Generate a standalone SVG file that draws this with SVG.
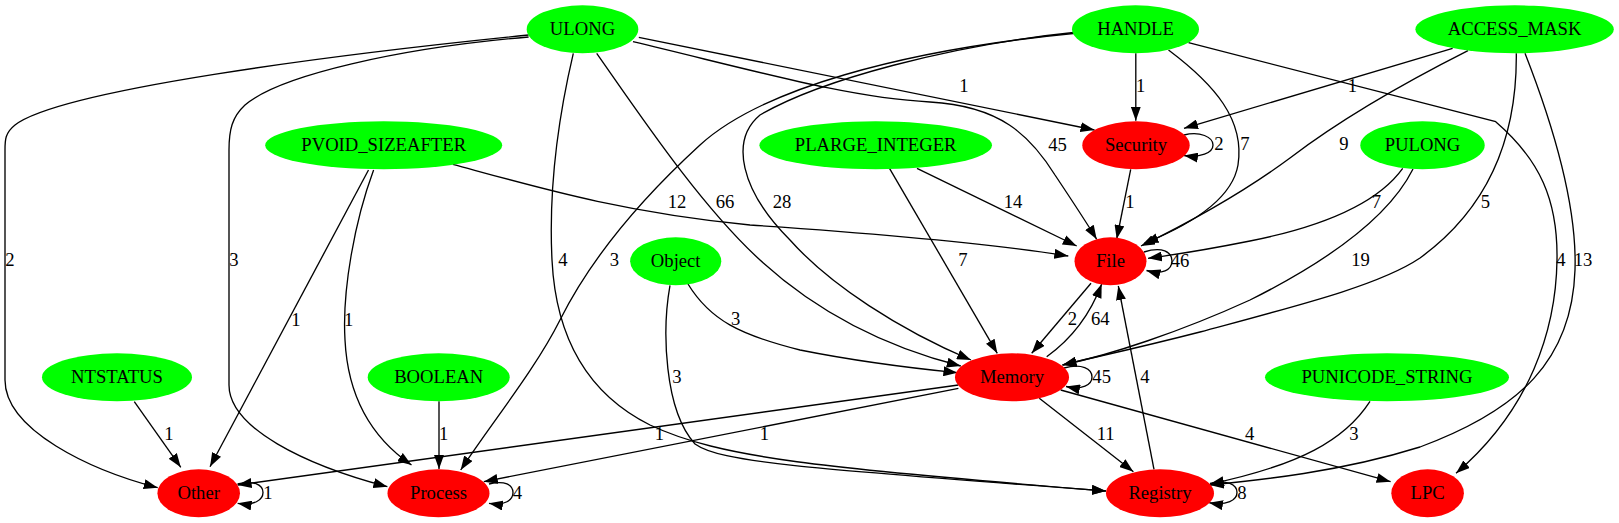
<svg xmlns="http://www.w3.org/2000/svg" width="1619" height="523" viewBox="0 0 1619 523">
<style>
.n ellipse{stroke:none}
.g{fill:#00ff00}
.r{fill:#ff0000}
text{font-family:"Liberation Serif","Times New Roman",serif;font-size:18.67px;text-anchor:middle;fill:#000}
#edges path{fill:none;stroke:#000;stroke-width:1.33;marker-end:url(#ah)}
</style>
<defs>
<marker id="ah" markerUnits="userSpaceOnUse" markerWidth="14" markerHeight="10" viewBox="0 0 14 10" refX="14" refY="5" orient="auto">
<path d="M0,0 L14,5 L0,10 z" fill="#000"/>
</marker>
</defs>
<rect width="1619" height="523" fill="#fff"/>
<g id="edges">
<g id="e_ULONG_Other"><path d="M528.6,35 C330,55 60,90 15,125 C5,133 5,140 5,150 L5,380 C5,430 90,470 157.7,487.7"/><text x="10" y="266">2</text></g>
<g id="e_ULONG_Process"><path d="M528.6,37 C400,48 280,75 245,105 C232,117 229,130 229,150 L229,385 C229,428 305,465 387.4,486.7"/><text x="234" y="266">3</text></g>
<g id="e_ULONG_Registry"><path d="M573.3,53.3 C560,110 548,180 552,260 C556,340 590,395 650,425 C720,458 820,468 1105.9,491"/><text x="563" y="266">4</text></g>
<g id="e_ULONG_Memory"><path d="M596.7,53.3 C640,115 700,205 760,260 C820,315 890,348 960.8,366"/><text x="725" y="208">66</text></g>
<g id="e_ULONG_File"><path d="M633,41.7 C760,72 850,98 930,102 C1000,106 1030,135 1055,175 C1075,205 1088,225 1096.7,239.3"/><text x="1057.5" y="151">45</text></g>
<g id="e_ULONG_Security"><path d="M638.8,37.3 L1094.5,130"/><text x="964" y="92">1</text></g>
<g id="e_HANDLE_Security"><path d="M1135.8,53.3 L1135.8,120.7"/><text x="1140.6" y="92">1</text></g>
<g id="e_HANDLE_File"><path d="M1168.5,50 C1215,85 1245,120 1238,165 C1232,200 1190,225 1144.4,243.3"/><text x="1245" y="150">7</text></g>
<g id="e_HANDLE_LPC"><path d="M1188.5,42.7 L1495.7,121.7 C1540,160 1558,200 1557,260 C1556,330 1530,410 1456,473.3"/><text x="1561" y="266">4</text></g>
<g id="e_HANDLE_Process"><path d="M1078,33 C900,50 760,90 700,145 C640,200 590,260 560,320 C535,370 490,425 460.7,470"/><text x="614.5" y="266">3</text></g>
<g id="e_HANDLE_Memory"><path d="M1078,32 C950,45 820,80 760,115 C730,140 740,190 790,240 C830,285 900,330 971,360"/><text x="782" y="208">28</text></g>
<g id="e_ACCESS_MASK_Security"><path d="M1452.6,48.3 L1184,128.3"/><text x="1352.5" y="92">1</text></g>
<g id="e_ACCESS_MASK_File"><path d="M1468,50.7 C1400,85 1340,120 1290,158 C1240,195 1190,222 1141,246"/><text x="1344" y="150">9</text></g>
<g id="e_ACCESS_MASK_Memory"><path d="M1516.3,53.3 C1517,120 1500,200 1420,258 C1380,285 1300,305 1200,332 C1130,350 1090,358 1062.5,365"/><text x="1485.5" y="208">5</text></g>
<g id="e_ACCESS_MASK_Registry"><path d="M1525,53.3 C1555,130 1577,210 1575,270 C1572,360 1520,410 1420,447 C1340,472 1260,480 1209.9,485"/><text x="1583" y="266">13</text></g>
<g id="e_PVOID_Other"><path d="M368.5,170 L210,466.7"/><text x="296" y="325.5">1</text></g>
<g id="e_PVOID_Process"><path d="M373.6,170 C355,220 342,290 345,340 C348,400 375,440 411.5,465"/><text x="348.7" y="325.5">1</text></g>
<g id="e_PVOID_File"><path d="M452.8,164.3 C540,188 620,212 750,225 C900,235 1000,245 1068.3,256"/><text x="677" y="208">12</text></g>
<g id="e_PLARGE_File"><path d="M917,168.3 L1076.7,246"/><text x="1013" y="208">14</text></g>
<g id="e_PLARGE_Memory"><path d="M889.5,168.3 L997.3,353.3"/><text x="963" y="266">7</text></g>
<g id="e_Security_Security"><path d="M1184,135 C1200,131 1213,137 1213,145 C1213,153 1200,158 1184,155.5"/><text x="1219" y="150">2</text></g>
<g id="e_Security_File"><path d="M1130.7,169.3 L1116.7,239"/><text x="1130" y="208">1</text></g>
<g id="e_PULONG_File"><path d="M1402.7,168.3 C1380,200 1330,225 1250,241 C1210,249 1180,254 1148,258.3"/><text x="1376.5" y="208">7</text></g>
<g id="e_PULONG_Memory"><path d="M1413,169 C1390,215 1330,260 1250,300 C1180,332 1110,355 1062.5,365"/><text x="1360.5" y="266">19</text></g>
<g id="e_Object_Memory"><path d="M688,284 C710,320 740,335 800,350 C860,362 910,368 957.4,372.7"/><text x="735.7" y="324.5">3</text></g>
<g id="e_Object_Registry"><path d="M670,285.3 C662,330 664,410 695,444 C720,462 800,468 1105.9,491"/><text x="677" y="383">3</text></g>
<g id="e_File_File"><path d="M1144,252 C1162,246 1172,252 1172,261 C1172,270 1162,275 1146.5,270.5"/><text x="1180" y="267">46</text></g>
<g id="e_File_Memory"><path d="M1091,283.3 L1031.7,353.3"/><text x="1072.5" y="324.5">2</text></g>
<g id="e_Memory_File"><path d="M1046.7,356.7 C1070,340 1090,315 1101.7,284"/><text x="1100.3" y="324.5">64</text></g>
<g id="e_Memory_Memory"><path d="M1064,368 C1082,363 1092,369 1092,377 C1092,385 1082,390 1066,386.5"/><text x="1101.7" y="383">45</text></g>
<g id="e_Memory_Other"><path d="M958.4,385 L237.6,485"/><text x="659.3" y="439.5">1</text></g>
<g id="e_Memory_Process"><path d="M958.4,388.3 L483.8,481.7"/><text x="764.4" y="439.5">1</text></g>
<g id="e_Memory_Registry"><path d="M1039.3,398.3 L1133.4,471.7"/><text x="1105.7" y="439.5">11</text></g>
<g id="e_Memory_LPC"><path d="M1060.7,390 L1390.6,481.7"/><text x="1249.6" y="439.5">4</text></g>
<g id="e_NTSTATUS_Other"><path d="M134.3,401.7 L180.8,467.3"/><text x="169" y="439.5">1</text></g>
<g id="e_BOOLEAN_Process"><path d="M439,401.3 L439,469"/><text x="443.7" y="439.5">1</text></g>
<g id="e_PUNICODE_Registry"><path d="M1370,401.3 C1345,440 1300,465 1210,484"/><text x="1354" y="439.5">3</text></g>
<g id="e_Registry_File"><path d="M1154,469.3 L1118.3,286"/><text x="1145" y="383">4</text></g>
<g id="e_Registry_Registry"><path d="M1210,483.3 C1227,479 1237,485 1237,492.5 C1237,500 1227,506 1209,502.7"/><text x="1242" y="498.5">8</text></g>
<g id="e_Other_Other"><path d="M237.6,484 C254,480 263,485 263,492.5 C263,500 254,506 237.6,503.3"/><text x="268" y="498.5">1</text></g>
<g id="e_Process_Process"><path d="M489,484 C505,480 513,485 513,492.5 C513,500 505,506 489,503.3"/><text x="517.5" y="498.5">4</text></g>
</g>
<g id="ULONG" class="n"><ellipse class="g" cx="582.5" cy="29.3" rx="55.8" ry="24"/><text x="582.5" y="35">ULONG</text></g>
<g id="HANDLE" class="n"><ellipse class="g" cx="1135.5" cy="29.3" rx="63.5" ry="24"/><text x="1135.5" y="35">HANDLE</text></g>
<g id="ACCESS_MASK" class="n"><ellipse class="g" cx="1514.6" cy="29.3" rx="99.2" ry="24"/><text x="1514.6" y="35">ACCESS_MASK</text></g>
<g id="PVOID_SIZEAFTER" class="n"><ellipse class="g" cx="383.7" cy="145.3" rx="118.5" ry="24"/><text x="383.7" y="151">PVOID_SIZEAFTER</text></g>
<g id="PLARGE_INTEGER" class="n"><ellipse class="g" cx="875.7" cy="145.3" rx="116.3" ry="24"/><text x="875.7" y="151">PLARGE_INTEGER</text></g>
<g id="Security" class="n"><ellipse class="r" cx="1136" cy="145.3" rx="53.7" ry="24"/><text x="1136" y="151">Security</text></g>
<g id="PULONG" class="n"><ellipse class="g" cx="1422.5" cy="145.3" rx="62.2" ry="24"/><text x="1422.5" y="151">PULONG</text></g>
<g id="Object" class="n"><ellipse class="g" cx="675.7" cy="261.3" rx="45.6" ry="24"/><text x="675.7" y="267">Object</text></g>
<g id="File" class="n"><ellipse class="r" cx="1110.5" cy="261.3" rx="36" ry="24"/><text x="1110.5" y="267">File</text></g>
<g id="NTSTATUS" class="n"><ellipse class="g" cx="117" cy="377.3" rx="75" ry="24"/><text x="117" y="383">NTSTATUS</text></g>
<g id="BOOLEAN" class="n"><ellipse class="g" cx="438.7" cy="377.3" rx="71" ry="24"/><text x="438.7" y="383">BOOLEAN</text></g>
<g id="Memory" class="n"><ellipse class="r" cx="1012" cy="377.3" rx="57" ry="24"/><text x="1012" y="383">Memory</text></g>
<g id="PUNICODE_STRING" class="n"><ellipse class="g" cx="1387" cy="377.3" rx="122" ry="24"/><text x="1387" y="383">PUNICODE_STRING</text></g>
<g id="Other" class="n"><ellipse class="r" cx="198.7" cy="493.3" rx="41.3" ry="24"/><text x="198.7" y="499">Other</text></g>
<g id="Process" class="n"><ellipse class="r" cx="438.5" cy="493.3" rx="51" ry="24"/><text x="438.5" y="499">Process</text></g>
<g id="Registry" class="n"><ellipse class="r" cx="1160" cy="493.3" rx="54" ry="24"/><text x="1160" y="499">Registry</text></g>
<g id="LPC" class="n"><ellipse class="r" cx="1427.6" cy="493.3" rx="36.3" ry="24"/><text x="1427.6" y="499">LPC</text></g>
</svg>
